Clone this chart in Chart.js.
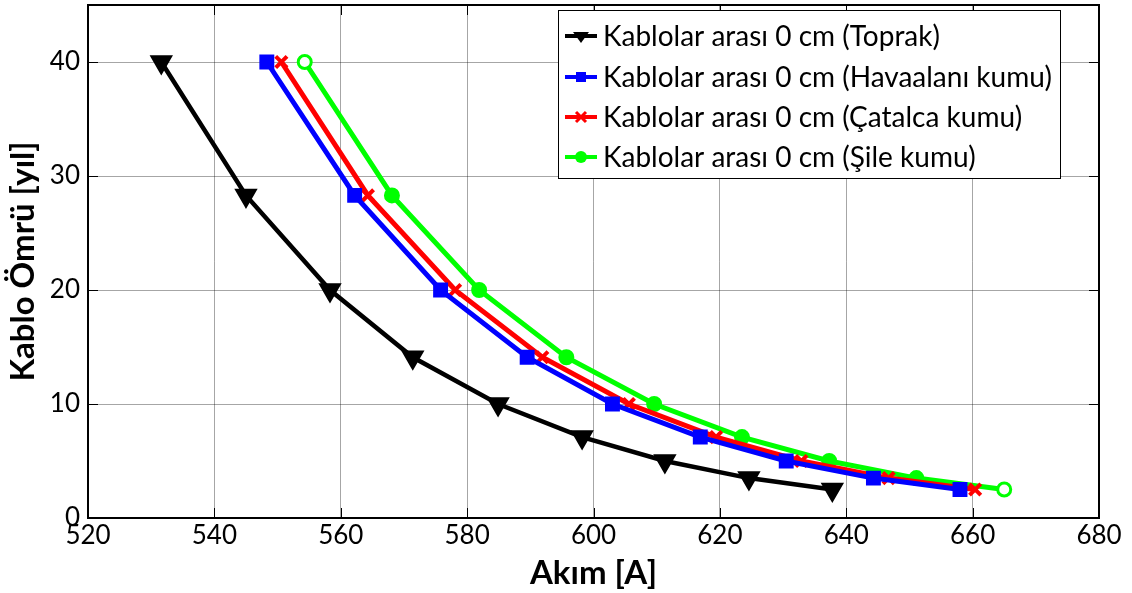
<!DOCTYPE html>
<html>
<head>
<meta charset="utf-8">
<script src="https://cdn.jsdelivr.net/npm/chart.js@4/dist/chart.umd.min.js"></script>
<style>
  html, body { margin: 0; padding: 0; background: #fff; }
  #wrap { width: 1132px; height: 593px; }
</style>
</head>
<body>
<div id="wrap"><canvas id="myChart" width="1132" height="593"></canvas></div>
<script>
// ömür değerleri (yıl) - tüm seriler için aynı
const omur = [40, 28.3, 20, 14.1, 10, 7.1, 5, 3.5, 2.5];

// akım değerleri (A)
const akimToprak = [531.6, 545, 558.3, 571.4, 584.9, 598.2, 611.3, 624.6, 637.8];
const akimHavaalani = [548.3, 562.2, 575.8, 589.5, 603, 616.9, 630.5, 644.3, 658];
const akimCatalca = [550.6, 564.3, 578.1, 591.9, 605.6, 619.4, 632.9, 646.7, 660.4];
const akimSile = [554.3, 568.1, 581.9, 595.7, 609.6, 623.5, 637.3, 651.1, 665];

const seriIsimleri = [
  "Kablolar arası 0 cm (Toprak)",
  "Kablolar arası 0 cm (Havaalanı kumu)",
  "Kablolar arası 0 cm (Çatalca kumu)",
  "Kablolar arası 0 cm (Şile kumu)",
];
const renkler = ["#000000", "#0000ff", "#ff0000", "#00ff00"];
const xTicks = [520, 540, 560, 580, 600, 620, 640, 660, 680];
const yTicks = [0, 10, 20, 30, 40];

const FONT = "Lato, 'Noto Sans', sans-serif";

function toPoints(xs) {
  return xs.map((x, i) => ({ x: x, y: omur[i] }));
}

// marker çizimi (legend için)
function drawMarker(ctx, type, color, x, y) {
  ctx.save();
  ctx.fillStyle = color;
  ctx.strokeStyle = color;
  ctx.lineWidth = 3;
  ctx.beginPath();
  if (type === "tri") {
    ctx.moveTo(x - 8, y - 4);
    ctx.lineTo(x + 8, y - 4);
    ctx.lineTo(x, y + 7);
    ctx.closePath();
    ctx.fill();
  } else if (type === "sq") {
    ctx.fillRect(x - 5, y - 5, 10, 10);
  } else if (type === "x") {
    ctx.moveTo(x - 5, y - 5);
    ctx.lineTo(x + 5, y + 5);
    ctx.moveTo(x + 5, y - 5);
    ctx.lineTo(x - 5, y + 5);
    ctx.stroke();
  } else {
    ctx.arc(x, y, 6, 0, Math.PI * 2);
    ctx.fill();
  }
  ctx.restore();
}

// çerçeve, iç tikler ve legend kutusu
const frameAndLegend = {
  id: "frameAndLegend",
  afterDatasetsDraw(chart) {
    const ctx = chart.ctx;
    const a = chart.chartArea;
    const xs = chart.scales.x;
    const ys = chart.scales.y;
    ctx.save();
    ctx.strokeStyle = "#000";
    ctx.lineWidth = 1;
    // iç tikler
    ctx.beginPath();
    xTicks.forEach((v) => {
      const px = Math.round(xs.getPixelForValue(v)) + 0.5;
      ctx.moveTo(px, a.bottom);
      ctx.lineTo(px, a.bottom - 10);
      ctx.moveTo(px, a.top);
      ctx.lineTo(px, a.top + 10);
    });
    yTicks.forEach((v) => {
      const py = Math.round(ys.getPixelForValue(v)) + 0.5;
      ctx.moveTo(a.left, py);
      ctx.lineTo(a.left + 10, py);
      ctx.moveTo(a.right, py);
      ctx.lineTo(a.right - 10, py);
    });
    ctx.stroke();
    // çerçeve
    ctx.lineWidth = 2;
    ctx.strokeRect(a.left, a.top, a.right - a.left, a.bottom - a.top);

    // legend
    const lx = 558, ly = 10, lw = 502, lh = 168;
    ctx.fillStyle = "#fff";
    ctx.fillRect(lx, ly, lw, lh);
    ctx.lineWidth = 1;
    ctx.strokeRect(lx + 0.5, ly + 0.5, lw, lh);
    const markers = ["tri", "sq", "x", "circ"];
    const rowY = [36, 77, 117, 157];
    ctx.font = "28px " + FONT;
    ctx.textBaseline = "middle";
    ctx.textAlign = "left";
    seriIsimleri.forEach((name, i) => {
      ctx.strokeStyle = renkler[i];
      ctx.lineWidth = 4;
      ctx.beginPath();
      ctx.moveTo(565, rowY[i]);
      ctx.lineTo(597, rowY[i]);
      ctx.stroke();
      drawMarker(ctx, markers[i], renkler[i], 581, rowY[i]);
      ctx.fillStyle = "#000";
      ctx.fillText(name, 603, rowY[i] + 1);
    });
    ctx.restore();
  },
};

const context = document.getElementById("myChart").getContext("2d");
const myChart = new Chart(context, {
  type: "line",
  data: {
    datasets: [
      {
        label: seriIsimleri[0],
        data: toPoints(akimToprak),
        borderColor: renkler[0],
        backgroundColor: renkler[0],
        borderWidth: 4.5,
        pointStyle: "triangle",
        rotation: 180,
        pointRadius: 9,
      },
      {
        label: seriIsimleri[1],
        data: toPoints(akimHavaalani),
        borderColor: renkler[1],
        backgroundColor: renkler[1],
        borderWidth: 5,
        pointStyle: "rect",
        pointRadius: 7,
      },
      {
        label: seriIsimleri[2],
        data: toPoints(akimCatalca),
        borderColor: renkler[2],
        backgroundColor: renkler[2],
        borderWidth: 5,
        pointStyle: "crossRot",
        pointRadius: 8,
        pointBorderWidth: 4,
      },
      {
        label: seriIsimleri[3],
        data: toPoints(akimSile),
        borderColor: renkler[3],
        backgroundColor: renkler[3],
        pointBackgroundColor: (c) => (c.dataIndex === 0 || c.dataIndex === akimSile.length - 1 ? "#ffffff" : renkler[3]),
        pointBorderWidth: 3,
        borderWidth: 5,
        pointStyle: "circle",
        pointRadius: 6.5,
      },
    ],
  },
  options: {
    responsive: false,
    animation: false,
    layout: { autoPadding: false, padding: { top: 5, right: 33, left: 0, bottom: 0 } },
    plugins: {
      legend: { display: false },
      tooltip: { enabled: false },
    },
    scales: {
      x: {
        type: "linear",
        min: 520,
        max: 680,
        afterBuildTicks: (s) => { s.ticks = xTicks.map((v) => ({ value: v })); },
        afterFit: (s) => { s.height = 75; s.paddingLeft = 0; s.paddingRight = 0; },
        ticks: { color: "#000", font: { family: FONT, size: 26 }, padding: 2, maxRotation: 0 },
        grid: { color: "rgba(0,0,0,0.35)", lineWidth: 1, drawTicks: false },
        border: { display: false },
        title: {
          display: true,
          text: "Akım [A]",
          color: "#000",
          font: { family: FONT, size: 33, weight: "bold" },
          padding: { top: -6, bottom: 0 },
        },
      },
      y: {
        type: "linear",
        min: 0,
        max: 45,
        afterBuildTicks: (s) => { s.ticks = yTicks.map((v) => ({ value: v })); },
        afterFit: (s) => { s.width = 88; s.paddingTop = 0; s.paddingBottom = 0; },
        ticks: { color: "#000", font: { family: FONT, size: 26 }, padding: 8 },
        grid: { color: "rgba(0,0,0,0.35)", lineWidth: 1, drawTicks: false },
        border: { display: false },
        title: {
          display: true,
          text: "Kablo Ömrü [yıl]",
          color: "#000",
          font: { family: FONT, size: 33, weight: "bold" },
          padding: { top: 4, bottom: 0 },
        },
      },
    },
  },
  plugins: [frameAndLegend],
});
</script>
</body>
</html>
